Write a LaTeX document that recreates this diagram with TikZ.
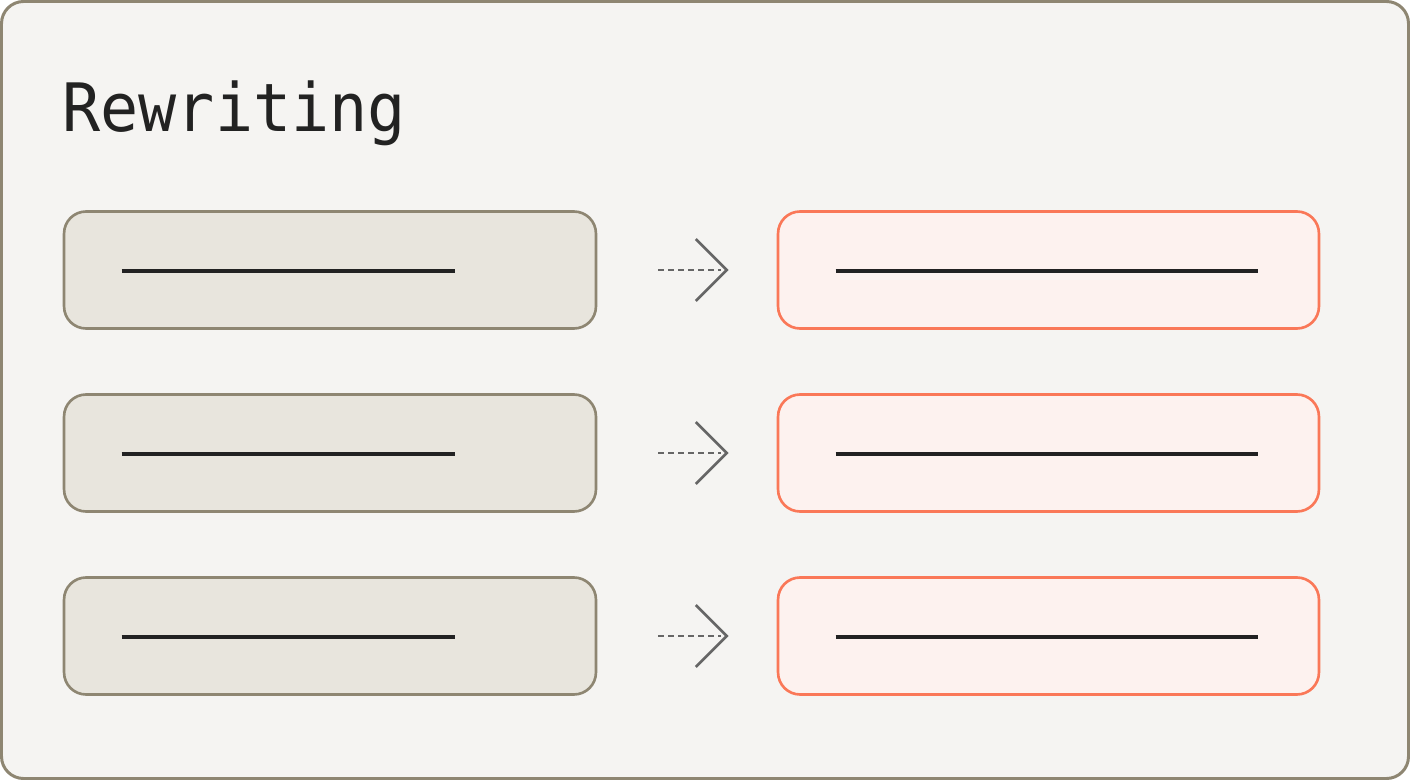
\documentclass[tikz,border=0pt]{standalone}
\usepackage{fontspec}
\newfontfamily\titlefont[FakeStretch=0.95]{DejaVu Sans Mono}
\usetikzlibrary{positioning}
\definecolor{frameline}{HTML}{8E8672}
\definecolor{panelbg}{HTML}{F5F4F2}
\definecolor{srcfill}{HTML}{E8E5DD}
\definecolor{dstline}{HTML}{FA7858}
\definecolor{dstfill}{HTML}{FDF2EF}
\definecolor{inkdark}{HTML}{222222}
\definecolor{hopgray}{HTML}{666666}
\tikzset{
  srcbox/.style={draw=frameline, fill=srcfill, line width=1.5pt, rounded corners=0.44cm,
    minimum width=10.64cm, minimum height=2.34cm, inner sep=0pt},
  dstbox/.style={draw=dstline, fill=dstfill, line width=1.5pt, rounded corners=0.44cm,
    minimum width=10.82cm, minimum height=2.34cm, inner sep=0pt},
  textline/.style={inkdark, line width=1.9pt},
  hop/.style={hopgray, line width=1.2pt, dash pattern=on 3.4pt off 2.3pt},
  chevron/.style={hopgray, line width=1.5pt}
}
\begin{document}
\begin{tikzpicture}[x=0.02cm,y=-0.02cm]
	\useasboundingbox (0,0) rectangle (1410,780);
	\draw[frameline, fill=panelbg, line width=1.7pt, rounded corners=0.44cm] (1.5,1.5) rectangle (1408.5,778.5);
	\node[anchor=base west, inner sep=0pt, text=inkdark, font=\titlefont\fontsize{38}{38}\selectfont] (title) at (62,132) {Rewriting};
	% one row per rewrite
	\foreach \i/\y in {1/270,2/453,3/636} {
		\node[srcbox] (src\i) at (330,\y) {};
		\node[dstbox] (dst\i) at (1048.5,\y) {};
		\draw[textline] ([shift={(1.18cm,-0.02cm)}]src\i.west) -- ([shift={(7.84cm,-0.02cm)}]src\i.west);
		\draw[textline] ([shift={(1.18cm,-0.02cm)}]dst\i.west) -- ([shift={(9.62cm,-0.02cm)}]dst\i.west);
		\coordinate (hopa\i) at ([xshift=1.22cm]src\i.east);
		\coordinate (hopb\i) at ([xshift=-1.0cm]dst\i.west);
		\draw[hop] (hopa\i) -- ([xshift=-0.12cm]hopb\i);
		\draw[chevron, line join=miter] ([shift={(-0.62cm,0.62cm)}]hopb\i) -- (hopb\i) -- ([shift={(-0.62cm,-0.62cm)}]hopb\i);
	}
\end{tikzpicture}
\end{document}
